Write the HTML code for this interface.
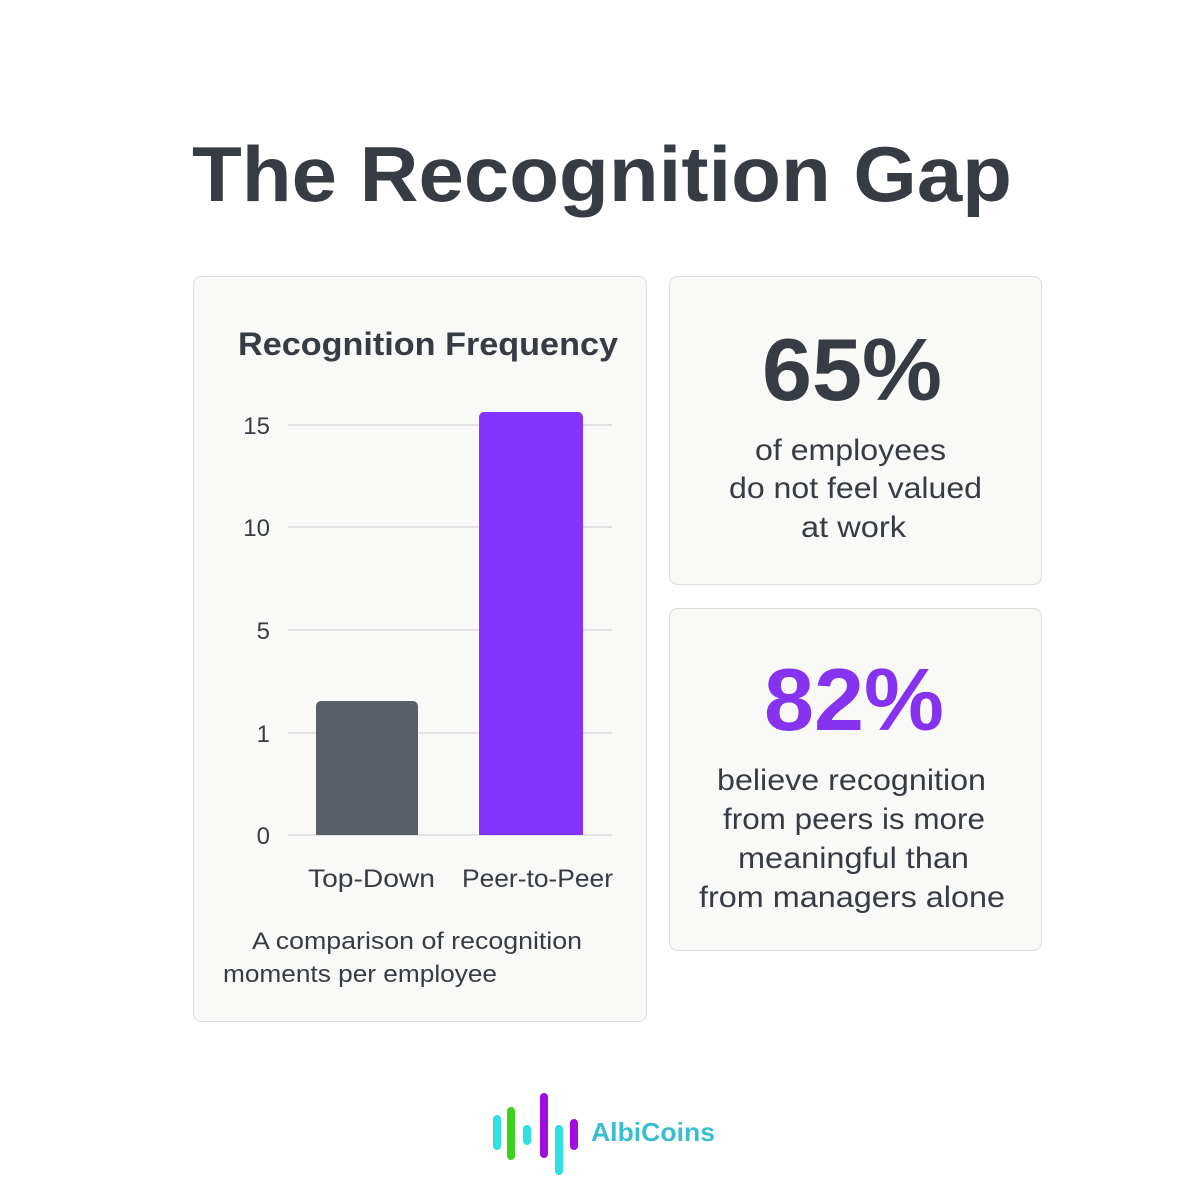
<!DOCTYPE html>
<html><head><meta charset="utf-8"><style>
html,body{margin:0;padding:0;background:#fff;}
svg{display:block;}
text{font-family:"Liberation Sans",sans-serif;}
</style></head><body>
<svg width="1200" height="1200" viewBox="0 0 1200 1200">
<rect width="1200" height="1200" fill="#fff"/>
<text x="192" y="201" font-size="78" font-weight="bold" fill="#373c44" textLength="820" lengthAdjust="spacingAndGlyphs">The Recognition Gap</text>
<rect x="193.5" y="276.5" width="453" height="745" rx="8" fill="#f9f9f8" stroke="#dddddb"/>
<rect x="669.5" y="276.5" width="372" height="308" rx="8" fill="#f9f9f8" stroke="#dddddb"/>
<rect x="669.5" y="608.5" width="372" height="342" rx="8" fill="#f9f9f8" stroke="#dddddb"/>
<text x="238" y="355" font-size="32" font-weight="bold" fill="#373c44" textLength="380" lengthAdjust="spacingAndGlyphs">Recognition Frequency</text>
<g stroke="#dcdcdc" stroke-width="1.5">
<line x1="288" y1="425" x2="612" y2="425"/><line x1="288" y1="527" x2="612" y2="527"/>
<line x1="288" y1="630" x2="612" y2="630"/><line x1="288" y1="733" x2="612" y2="733"/>
<line x1="288" y1="835" x2="612" y2="835"/></g>
<g font-size="24" fill="#373c44" text-anchor="end">
<text x="270" y="434">15</text><text x="270" y="536">10</text><text x="270" y="639">5</text><text x="270" y="742">1</text><text x="270" y="844">0</text></g>
<path d="M316 835V706a5 5 0 0 1 5-5h92a5 5 0 0 1 5 5V835Z" fill="#5a5e66"/>
<path d="M479 835V417a5 5 0 0 1 5-5h94a5 5 0 0 1 5 5V835Z" fill="#8533ff"/>
<g font-size="25" fill="#373c44">
<text x="308" y="887" textLength="127" lengthAdjust="spacingAndGlyphs">Top-Down</text>
<text x="462" y="887" textLength="151" lengthAdjust="spacingAndGlyphs">Peer-to-Peer</text></g>
<g font-size="24" fill="#373c44">
<text x="252" y="949" textLength="330" lengthAdjust="spacingAndGlyphs">A comparison of recognition</text>
<text x="223" y="982" textLength="274" lengthAdjust="spacingAndGlyphs">moments per employee</text></g>
<text x="852" y="400" font-size="88" font-weight="bold" fill="#373c44" text-anchor="middle" textLength="180" lengthAdjust="spacingAndGlyphs">65%</text>
<g font-size="30" fill="#373c44">
<text x="755" y="460" textLength="191" lengthAdjust="spacingAndGlyphs">of employees</text>
<text x="729" y="498" textLength="253" lengthAdjust="spacingAndGlyphs">do not feel valued</text>
<text x="801" y="537" textLength="105" lengthAdjust="spacingAndGlyphs">at work</text></g>
<text x="854" y="730" font-size="88" font-weight="bold" fill="#8533ee" text-anchor="middle" textLength="180" lengthAdjust="spacingAndGlyphs">82%</text>
<g font-size="30" fill="#373c44">
<text x="717" y="790" textLength="269" lengthAdjust="spacingAndGlyphs">believe recognition</text>
<text x="723" y="829" textLength="262" lengthAdjust="spacingAndGlyphs">from peers is more</text>
<text x="738" y="868" textLength="231" lengthAdjust="spacingAndGlyphs">meaningful than</text>
<text x="699" y="907" textLength="306" lengthAdjust="spacingAndGlyphs">from managers alone</text></g>
<g stroke-linecap="round" stroke-width="8">
<line x1="497" y1="1119" x2="497" y2="1146" stroke="#2ee0df"/>
<line x1="511" y1="1111" x2="511" y2="1156" stroke="#3ed120"/>
<line x1="527" y1="1129" x2="527" y2="1141" stroke="#2ee0df"/>
<line x1="544" y1="1097" x2="544" y2="1154" stroke="#a00ee0"/>
<line x1="559" y1="1129" x2="559" y2="1171" stroke="#2ee0df"/>
<line x1="574" y1="1123" x2="574" y2="1146" stroke="#a00ee0"/></g>
<text x="591" y="1141" font-size="26" font-weight="bold" fill="#3bbdd0" textLength="124" lengthAdjust="spacingAndGlyphs">AlbiCoins</text>
</svg>
</body></html>
